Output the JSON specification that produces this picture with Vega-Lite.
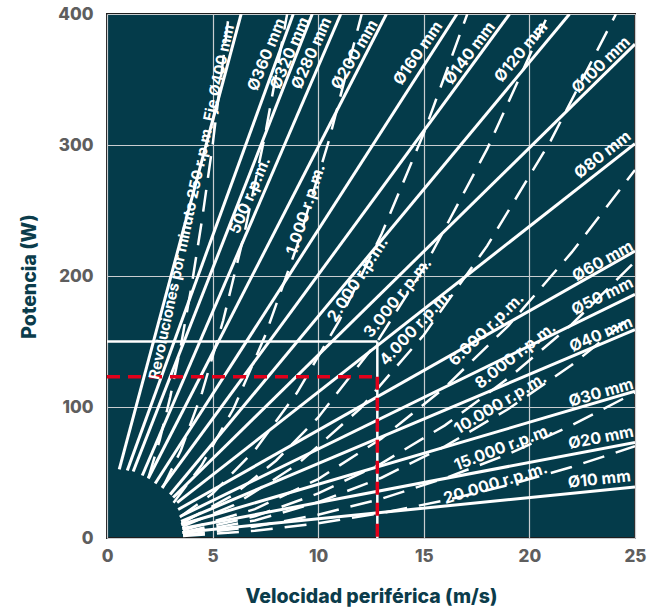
{
"$schema":"https://vega.github.io/schema/vega-lite/v6.json",
"width":528,"height":524,
"autosize":{"type":"none"},
"padding":{"left":107,"top":14,"right":21,"bottom":72},
"background":"#ffffff",
"config":{
 "font":"Inter",
 "view":{"fill":"#043b4a","stroke":"#1e1e1e","strokeWidth":2},
 "axis":{"labelFont":"Inter","labelFontWeight":800,"labelFontSize":17,"labelColor":"#5e5e5e","titleFont":"Inter","titleFontWeight":800,"titleFontSize":19.5,"titleColor":"#0b3c4b","ticks":false,"domain":false,"grid":true,"gridColor":"#c9cdd0","gridWidth":1.2,"labelFlush":false},
 "text":{"font":"Inter","fontWeight":"bold","fontSize":16,"fill":"#ffffff","align":"center","baseline":"middle"}
},
"datasets":{
 "diam":[
  {"d":"Ø400","v":0.58,"P":52.3},{"d":"Ø400","v":6.35,"P":400},
  {"d":"Ø360","v":0.96,"P":51.5},{"d":"Ø360","v":8.82,"P":400},
  {"d":"Ø320","v":1.24,"P":50.8},{"d":"Ø320","v":9.72,"P":400},
  {"d":"Ø280","v":1.67,"P":47.7},{"d":"Ø280","v":11.07,"P":400},
  {"d":"Ø200","v":1.95,"P":45.4},{"d":"Ø200","v":13.23,"P":400},
  {"d":"Ø160","v":2.28,"P":41.6},{"d":"Ø160","v":16.57,"P":400},
  {"d":"Ø140","v":2.61,"P":38.5},{"d":"Ø140","v":19.06,"P":400},
  {"d":"Ø120","v":2.99,"P":33.2},{"d":"Ø120","v":21.9,"P":400},
  {"d":"Ø100","v":3.13,"P":30.9},{"d":"Ø100","v":25,"P":377},
  {"d":"Ø80","v":3.32,"P":27},{"d":"Ø80","v":25,"P":301},
  {"d":"Ø60","v":3.37,"P":21.8},{"d":"Ø60","v":25,"P":219},
  {"d":"Ø50","v":3.46,"P":16.4},{"d":"Ø50","v":25,"P":186},
  {"d":"Ø40","v":3.51,"P":12.6},{"d":"Ø40","v":25,"P":159},
  {"d":"Ø30","v":3.51,"P":10.3},{"d":"Ø30","v":25,"P":112},
  {"d":"Ø20","v":3.56,"P":7.3},{"d":"Ø20","v":25,"P":73},
  {"d":"Ø10","v":3.56,"P":4.2},{"d":"Ø10","v":25,"P":39}
 ],
 "rpm":[
  {"n":"250","v":1.96,"P":46},{"n":"250","v":2.5,"P":75},{"n":"250","v":3,"P":108},{"n":"250","v":3.5,"P":147},{"n":"250","v":4,"P":192},{"n":"250","v":4.5,"P":243},{"n":"250","v":5,"P":300},{"n":"250","v":5.77,"P":400},
  {"n":"500","v":2.63,"P":38},{"n":"500","v":3.5,"P":67},{"n":"500","v":4.5,"P":111},{"n":"500","v":5.5,"P":166},{"n":"500","v":6.5,"P":232},{"n":"500","v":7.5,"P":309},{"n":"500","v":8.53,"P":400},
  {"n":"1000","v":3.15,"P":27},{"n":"1000","v":4.5,"P":56},{"n":"1000","v":6,"P":99},{"n":"1000","v":7.5,"P":155},{"n":"1000","v":9,"P":223},{"n":"1000","v":10.5,"P":303},{"n":"1000","v":12.06,"P":400},
  {"n":"2000","v":3.45,"P":16},{"n":"2000","v":5,"P":34},{"n":"2000","v":7,"P":67},{"n":"2000","v":9,"P":111},{"n":"2000","v":11,"P":166},{"n":"2000","v":13,"P":232},{"n":"2000","v":15,"P":309},{"n":"2000","v":17.06,"P":400},
  {"n":"3000","v":3.53,"P":11.4},{"n":"3000","v":6,"P":33},{"n":"3000","v":8,"P":59},{"n":"3000","v":10,"P":92},{"n":"3000","v":12.8,"P":150},{"n":"3000","v":15,"P":206},{"n":"3000","v":18,"P":297},{"n":"3000","v":20.9,"P":400},
  {"n":"4000","v":3.57,"P":8.8},{"n":"4000","v":6,"P":25},{"n":"4000","v":9,"P":56},{"n":"4000","v":12,"P":99},{"n":"4000","v":15,"P":155},{"n":"4000","v":18,"P":223},{"n":"4000","v":21,"P":303},{"n":"4000","v":24.1,"P":400},
  {"n":"6000","v":3.6,"P":5.8},{"n":"6000","v":7,"P":22},{"n":"6000","v":10,"P":45},{"n":"6000","v":13,"P":76},{"n":"6000","v":16,"P":115},{"n":"6000","v":19,"P":162},{"n":"6000","v":22,"P":218},{"n":"6000","v":25,"P":281},
  {"n":"8000","v":3.6,"P":4.4},{"n":"8000","v":7,"P":16.5},{"n":"8000","v":10,"P":34},{"n":"8000","v":13,"P":57},{"n":"8000","v":16,"P":86},{"n":"8000","v":19,"P":122},{"n":"8000","v":22,"P":163},{"n":"8000","v":25,"P":211},
  {"n":"10000","v":3.6,"P":3.5},{"n":"10000","v":7,"P":13.4},{"n":"10000","v":10,"P":27.3},{"n":"10000","v":13,"P":46},{"n":"10000","v":16,"P":70},{"n":"10000","v":19,"P":98.5},{"n":"10000","v":22,"P":132},{"n":"10000","v":25,"P":171},
  {"n":"15000","v":3.6,"P":2.3},{"n":"15000","v":7,"P":8.7},{"n":"15000","v":10,"P":17.8},{"n":"15000","v":13,"P":30},{"n":"15000","v":16,"P":45.6},{"n":"15000","v":19,"P":64},{"n":"15000","v":22,"P":86},{"n":"15000","v":25,"P":111},
  {"n":"20000","v":3.6,"P":1.5},{"n":"20000","v":7,"P":5.5},{"n":"20000","v":10,"P":11.2},{"n":"20000","v":13,"P":19},{"n":"20000","v":16,"P":28.7},{"n":"20000","v":19,"P":40.4},{"n":"20000","v":22,"P":54.2},{"n":"20000","v":25,"P":70}
 ],
 "ref":[
  {"k":"w","v":0,"v2":12.8,"P":150,"P2":150},
  {"k":"w","v":12.8,"v2":12.8,"P":150,"P2":0},
  {"k":"r","v":0,"v2":12.8,"P":123,"P2":123},
  {"k":"r","v":12.8,"v2":12.8,"P":123,"P2":0}
 ],
 "lab":[
  {"t":"Revoluciones por minuto 250 r.p.m. Eje Ø400 mm","v":4.0,"P":256.5},
  {"t":"Ø360 mm","v":7.56,"P":369},
  {"t":"Ø320 mm","v":8.66,"P":370},
  {"t":"Ø280 mm","v":9.69,"P":370},
  {"t":"Ø200 mm","v":11.73,"P":369},
  {"t":"Ø160 mm","v":14.73,"P":370},
  {"t":"Ø140 mm","v":17.17,"P":370},
  {"t":"Ø120 mm","v":19.61,"P":371},
  {"t":"Ø100 mm","v":23.39,"P":361},
  {"t":"Ø80 mm","v":23.47,"P":292.5},
  {"t":"Ø60 mm","v":23.47,"P":211.3},
  {"t":"Ø50 mm","v":23.45,"P":184.4},
  {"t":"Ø40 mm","v":23.39,"P":155.3},
  {"t":"Ø30 mm","v":23.39,"P":110.8},
  {"t":"Ø20 mm","v":23.39,"P":76.5},
  {"t":"Ø10 mm","v":23.31,"P":44.7},
  {"t":"500 r.p.m.","v":6.77,"P":261.5},
  {"t":"1.000 r.p.m.","v":9.42,"P":250.8},
  {"t":"2.000 r.p.m.","v":11.88,"P":197.3},
  {"t":"3.000 r.p.m.","v":13.77,"P":183.4},
  {"t":"4.000 r.p.m.","v":14.62,"P":160.7},
  {"t":"6.000 r.p.m.","v":17.97,"P":159.2},
  {"t":"8.000 r.p.m.","v":19.34,"P":139.3},
  {"t":"10.000 r.p.m.","v":18.63,"P":102.7},
  {"t":"15.000 r.p.m.","v":18.77,"P":69.1},
  {"t":"20.000 r.p.m.","v":18.4,"P":41.6}
 ]
},
"encoding":{
 "x":{"field":"v","type":"quantitative","scale":{"domain":[0,25],"nice":false,"zero":false},"axis":{"values":[0,5,10,15,20,25],"labelPadding":10,"titlePadding":23,"title":"Velocidad periférica (m/s)"}},
 "y":{"field":"P","type":"quantitative","scale":{"domain":[0,400],"nice":false,"zero":false},"axis":{"values":[0,100,200,300,400],"labelPadding":14,"titlePadding":18,"title":"Potencia (W)"}}
},
"layer":[
 {"data":{"name":"rpm"},"mark":{"type":"line","color":"#ffffff","strokeWidth":2.5,"strokeDash":[22,12],"clip":true},"encoding":{"detail":{"field":"n"}}},
 {"data":{"name":"diam"},"mark":{"type":"line","color":"#ffffff","strokeWidth":3,"clip":true},"encoding":{"detail":{"field":"d"}}},
 {"data":{"name":"ref"},"transform":[{"filter":"datum.k=='w'"}],"mark":{"type":"rule","color":"#ffffff","strokeWidth":2.5},"encoding":{"x2":{"field":"v2"},"y2":{"field":"P2"}}},
 {"data":{"name":"ref"},"transform":[{"filter":"datum.k=='r'"}],"mark":{"type":"rule","color":"#e2001a","strokeWidth":3.5,"strokeDash":[13,8]},"encoding":{"x2":{"field":"v2"},"y2":{"field":"P2"}}},
 {"data":{"name":"lab"},"transform":[{"filter":{"field":"t","equal":"Revoluciones por minuto 250 r.p.m. Eje Ø400 mm"}}],"mark":{"type":"text","angle":282,"fontSize":15},"encoding":{"text":{"field":"t"}}},
 {"data":{"name":"lab"},"transform":[{"filter":{"field":"t","equal":"Ø360 mm"}}],"mark":{"type":"text","angle":292},"encoding":{"text":{"field":"t"}}},
 {"data":{"name":"lab"},"transform":[{"filter":{"field":"t","equal":"Ø320 mm"}}],"mark":{"type":"text","angle":293},"encoding":{"text":{"field":"t"}}},
 {"data":{"name":"lab"},"transform":[{"filter":{"field":"t","equal":"Ø280 mm"}}],"mark":{"type":"text","angle":294},"encoding":{"text":{"field":"t"}}},
 {"data":{"name":"lab"},"transform":[{"filter":{"field":"t","equal":"Ø200 mm"}}],"mark":{"type":"text","angle":300},"encoding":{"text":{"field":"t"}}},
 {"data":{"name":"lab"},"transform":[{"filter":{"field":"t","equal":"Ø160 mm"}}],"mark":{"type":"text","angle":305},"encoding":{"text":{"field":"t"}}},
 {"data":{"name":"lab"},"transform":[{"filter":{"field":"t","equal":"Ø140 mm"}}],"mark":{"type":"text","angle":307},"encoding":{"text":{"field":"t"}}},
 {"data":{"name":"lab"},"transform":[{"filter":{"field":"t","equal":"Ø120 mm"}}],"mark":{"type":"text","angle":310},"encoding":{"text":{"field":"t"}}},
 {"data":{"name":"lab"},"transform":[{"filter":{"field":"t","equal":"Ø100 mm"}}],"mark":{"type":"text","angle":316},"encoding":{"text":{"field":"t"}}},
 {"data":{"name":"lab"},"transform":[{"filter":{"field":"t","equal":"Ø80 mm"}}],"mark":{"type":"text","angle":322},"encoding":{"text":{"field":"t"}}},
 {"data":{"name":"lab"},"transform":[{"filter":{"field":"t","equal":"Ø60 mm"}}],"mark":{"type":"text","angle":331},"encoding":{"text":{"field":"t"}}},
 {"data":{"name":"lab"},"transform":[{"filter":{"field":"t","equal":"Ø50 mm"}}],"mark":{"type":"text","angle":334},"encoding":{"text":{"field":"t"}}},
 {"data":{"name":"lab"},"transform":[{"filter":{"field":"t","equal":"Ø40 mm"}}],"mark":{"type":"text","angle":337},"encoding":{"text":{"field":"t"}}},
 {"data":{"name":"lab"},"transform":[{"filter":{"field":"t","equal":"Ø30 mm"}}],"mark":{"type":"text","angle":344},"encoding":{"text":{"field":"t"}}},
 {"data":{"name":"lab"},"transform":[{"filter":{"field":"t","equal":"Ø20 mm"}}],"mark":{"type":"text","angle":349},"encoding":{"text":{"field":"t"}}},
 {"data":{"name":"lab"},"transform":[{"filter":{"field":"t","equal":"Ø10 mm"}}],"mark":{"type":"text","angle":354},"encoding":{"text":{"field":"t"}}},
 {"data":{"name":"lab"},"transform":[{"filter":{"field":"t","equal":"500 r.p.m."}}],"mark":{"type":"text","angle":293},"encoding":{"text":{"field":"t"}}},
 {"data":{"name":"lab"},"transform":[{"filter":{"field":"t","equal":"1.000 r.p.m."}}],"mark":{"type":"text","angle":288},"encoding":{"text":{"field":"t"}}},
 {"data":{"name":"lab"},"transform":[{"filter":{"field":"t","equal":"2.000 r.p.m."}}],"mark":{"type":"text","angle":303},"encoding":{"text":{"field":"t"}}},
 {"data":{"name":"lab"},"transform":[{"filter":{"field":"t","equal":"3.000 r.p.m."}}],"mark":{"type":"text","angle":309},"encoding":{"text":{"field":"t"}}},
 {"data":{"name":"lab"},"transform":[{"filter":{"field":"t","equal":"4.000 r.p.m."}}],"mark":{"type":"text","angle":313},"encoding":{"text":{"field":"t"}}},
 {"data":{"name":"lab"},"transform":[{"filter":{"field":"t","equal":"6.000 r.p.m."}}],"mark":{"type":"text","angle":316},"encoding":{"text":{"field":"t"}}},
 {"data":{"name":"lab"},"transform":[{"filter":{"field":"t","equal":"8.000 r.p.m."}}],"mark":{"type":"text","angle":322},"encoding":{"text":{"field":"t"}}},
 {"data":{"name":"lab"},"transform":[{"filter":{"field":"t","equal":"10.000 r.p.m."}}],"mark":{"type":"text","angle":329},"encoding":{"text":{"field":"t"}}},
 {"data":{"name":"lab"},"transform":[{"filter":{"field":"t","equal":"15.000 r.p.m."}}],"mark":{"type":"text","angle":339},"encoding":{"text":{"field":"t"}}},
 {"data":{"name":"lab"},"transform":[{"filter":{"field":"t","equal":"20.000 r.p.m."}}],"mark":{"type":"text","angle":343},"encoding":{"text":{"field":"t"}}}
]
}
